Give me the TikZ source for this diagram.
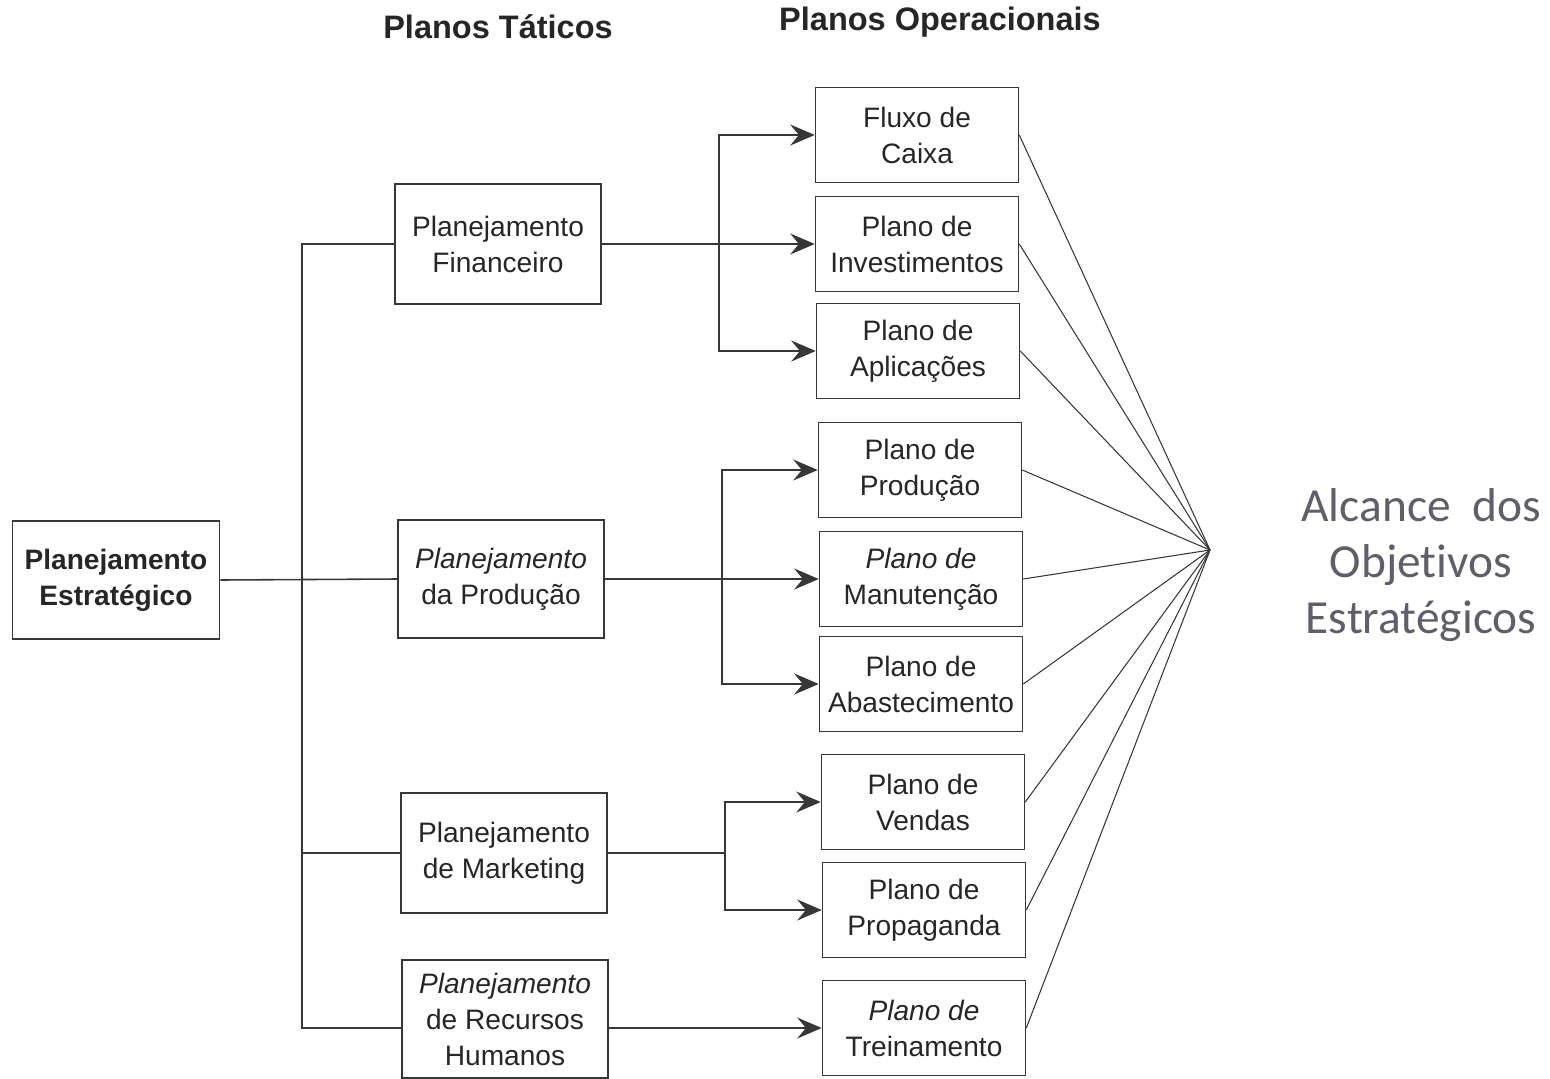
\documentclass[tikz,border=0pt]{standalone}
\usepackage{fontspec}
\setmainfont{Liberation Sans}
\newfontfamily\alcfont[Ligatures=NoCommon]{Carlito}
\usetikzlibrary{arrows.meta, positioning}
\definecolor{linegray}{RGB}{55,55,55}
\definecolor{alcgray}{RGB}{95,95,105}
\tikzset{
  planbox/.style={draw=linegray, line width=0.9pt, align=center, font=\fontsize{16}{20.5}\selectfont, text=black!85, inner sep=2pt},
  tatnode/.style={planbox, minimum width=4.12cm, minimum height=2.4cm},
  opnode/.style={planbox, minimum width=4.06cm, minimum height=1.9cm},
  estnode/.style={planbox, font=\fontsize{16}{20.5}\selectfont\bfseries, minimum width=4.14cm, minimum height=2.36cm},
  headnode/.style={font=\fontsize{18.5}{22}\selectfont\bfseries, text=black!85},
  jline/.style={linegray, line width=0.9pt},
  jarrow/.style={jline, -{Stealth[length=14pt, width=12pt, inset=5pt]}},
  fanline/.style={linegray, line width=0.6pt},
}

\begin{document}
\begin{tikzpicture}[x=0.02cm, y=-0.02cm]
  \useasboundingbox (0,0) rectangle (1550,1078);

  % titulos
  \node[headnode] (htat) at (498,27) {Planos Táticos};
  \node[headnode] (hop) at (940,22) {Planos Operacionais};

  % estrategico e taticos
  \node[estnode] (est) at (116,580) {Planejamento\\Estratégico};
  \node[tatnode] (fin) at (498,244) {Planejamento\\Financeiro};
  \node[tatnode, minimum height=2.36cm] (prod) at (501,579) {{\itshape Planejamento}\\da Produção};
  \node[tatnode] (mkt) at (504,853) {Planejamento\\de Marketing};
  \node[tatnode, minimum height=2.36cm] (rh) at (505,1019) {{\itshape Planejamento}\\de Recursos\\Humanos};

  % operacionais
  \node[opnode] (flux) at (917,135) {Fluxo de\\Caixa};
  \node[opnode] (inv) at (917,244) {Plano de\\Investimentos};
  \node[opnode] (apl) at (918,351) {Plano de\\Aplicações};
  \node[opnode] (pprod) at (920,470) {Plano de\\Produção};
  \node[opnode] (manut) at (921,579) {{\itshape Plano de}\\Manutenção};
  \node[opnode] (abast) at (921,684) {Plano de\\Abastecimento};
  \node[opnode] (vend) at (923,802) {Plano de\\Vendas};
  \node[opnode] (prop) at (924,910) {Plano de\\Propaganda};
  \node[opnode] (trein) at (924,1028) {{\itshape Plano de}\\Treinamento};

  % alcance
  \coordinate (alc) at (1210,550);
  \node[font=\alcfont\fontsize{27}{32}\selectfont, text=alcgray, align=center] (alctxt) at (1421,565) {Alcance\ \ dos\\Objet\kern0pt ivos\\Estratégicos};

  % tronco
  \coordinate (ttop) at (302,244);
  \coordinate (tbot) at (302,1028);
  \draw[jline] (fin.west) -- (ttop) -- (tbot) -- (rh.west |- tbot);
  \draw[jline] (est.east) -- (prod.west);
  \draw[jline] (tbot |- mkt) -- (mkt.west);

  % ramos
  \coordinate (fj) at (719,244);
  \coordinate (pj) at (722,579);
  \coordinate (mj) at (725,853);
  \draw[jarrow] (fin.east) -- (inv.west);
  \draw[jarrow] (fj) |- (flux.west);
  \draw[jarrow] (fj) |- (apl.west);
  \draw[jarrow] (prod.east) -- (manut.west);
  \draw[jarrow] (pj) |- (pprod.west);
  \draw[jarrow] (pj) |- (abast.west);
  \draw[jline] (mkt.east) -- (mj);
  \draw[jarrow] (mj) |- (vend.west);
  \draw[jarrow] (mj) |- (prop.west);
  \draw[jarrow] (rh.east |- trein) -- (trein.west);

  % leque
  \foreach \n in {flux,inv,apl,pprod,manut,abast,vend,prop,trein}
    \draw[fanline] (\n.east) -- (alc);
\end{tikzpicture}
\end{document}
